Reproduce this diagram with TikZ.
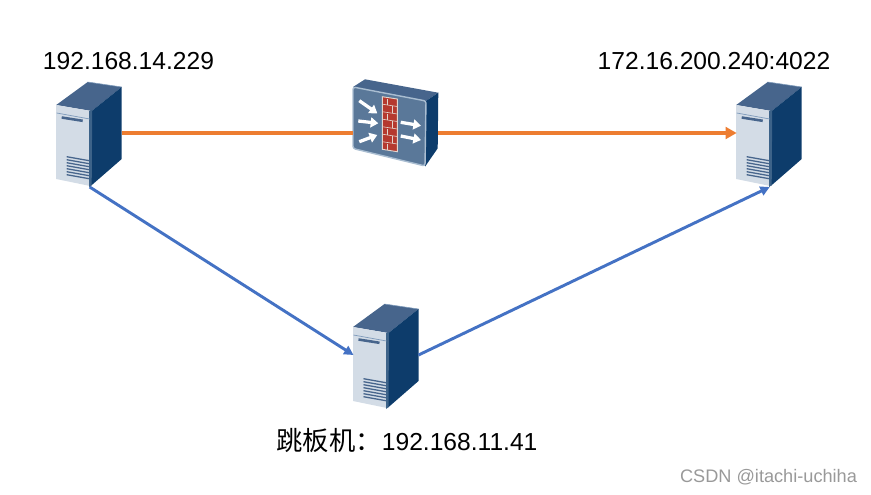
\documentclass[tikz,border=0pt]{standalone}
\usepackage{fontspec}
\setmainfont{Liberation Sans}
\newfontfamily\cjk[Scale=1.07]{Noto Sans CJK SC}
\usetikzlibrary{arrows.meta,positioning}
\definecolor{srvtop}{HTML}{47658C}
\definecolor{srvside}{HTML}{0D3C6B}
\definecolor{srvfront}{HTML}{D3DCE6}
\definecolor{srvedge}{HTML}{7F9BBB}
\definecolor{fwface}{HTML}{5A7899}
\definecolor{fwrim}{HTML}{A9BDD1}
\definecolor{brick}{HTML}{B5392F}
\definecolor{brickline}{HTML}{E3D6CE}
\definecolor{orangeline}{HTML}{ED7D31}
\definecolor{blueline}{HTML}{4472C4}
\tikzset{
  srv/.pic={
    \fill[srvtop] (-.5,0)--(31,-23)--(65,-18)--(35,6)--cycle;
    \draw[srvedge,line width=.5pt] (31,-23)--(65,-18);
    \fill[srvside] (35,6)--(65,-18)--(65,54)--(34,81)--cycle;
    \fill[srvfront] (-.5,0)--(34,6)--(33.5,81)--(-.5,74)--cycle;
    \fill[srvside!80] (32.5,6)--(35.5,5)--(35,80)--(32.5,82)--cycle;
    \draw[srvedge,line width=.6pt] (0,8)--(33,14);
    \draw[srvtop,line width=2.2pt] (5,12.5)--(26,15.8);
    \foreach \k in {0,...,6} \draw[srvtop,line width=1.1pt] (10,51.7+3*\k)--(32.5,55.7+3*\k);
    \coordinate (-l) at (0,28); \coordinate (-r) at (65,28); \coordinate (-b) at (33,82);
  },
  wall/.pic={
    \fill[srvtop] (0,0)--(12,-7.7)--(85.3,5.7)--(73,14)--cycle;
    \fill[srvside] (73,14)--(85.3,5.7)--(84.7,61.3)--(72,79.7)--cycle;
    \fill[fwface,draw=fwrim,line width=1.2pt,rounded corners=2pt] (0,0)--(73,14)--(72,79)--(0,61.5)--cycle;
    \fill[brick,draw=brickline,line width=.8pt] (29.3,9.7)--(44.3,12)--(44.3,64.7)--(29.3,62.3)--cycle;
    \foreach \k in {1,...,6} \draw[brickline,line width=.5pt] (29.3,9.7+7.5*\k)--(44.3,12+7.5*\k);
    \foreach \k/\m in {1/34,2/39,3/34,4/39,5/34,6/39,7/34} \draw[brickline,line width=.5pt] (\m,10.7+7.5*\k)--(\m,4+7.5*\k);
    \draw[fwarrow] (6.3,13.7)--(24.3,26.3);
    \draw[fwarrow] (5.3,34)--(25.3,36.3);
    \draw[fwarrow] (6.3,54.7)--(24.3,48);
    \draw[fwarrow] (47.7,35.3)--(68,38.7);
    \draw[fwarrow] (47.7,49)--(68,53);
    \coordinate (-l) at (0,46); \coordinate (-r) at (85,46);
  },
  fwarrow/.style={-{Triangle[length=6.5pt,width=8.5pt]},draw=white,line width=2.8pt},
  oa/.style={-{Triangle[length=9.5pt,width=10pt]},draw=orangeline,line width=2.8pt},
  ba/.style={-{Triangle[length=8pt,width=8pt]},draw=blueline,line width=2.5pt},
  ip/.style={font=\fontsize{21pt}{24pt}\selectfont,text=black,inner sep=0pt},
}
\begin{document}
\begin{tikzpicture}[x=.03cm,y=-.03cm]
\useasboundingbox (0,0) rectangle (871,494);
% hosts and firewall
\pic (src) at (56.7,105) {srv};
\pic (dst) at (736.7,105) {srv};
\pic (jump) at (353.5,327) {srv};
\pic (fw) at (353,87) {wall};
% routes
\draw[oa,-] (src-r)--(fw-l);
\draw[oa] (fw-r)--(dst-l);
\draw[ba] (src-b)--(jump-l);
\draw[ba] (jump-r)--(dst-b);
% labels
\node[ip] (srclabel) at (128.5,61) {192.168.14.229};
\node[ip] (dstlabel) at (714,61) {172.16.200.240:4022};
\node[ip] (jumplabel) at (407,440) {{\cjk 跳板机：}192.168.11.41};
\node[font=\fontsize{15.5pt}{18pt}\selectfont,text=black!40,inner sep=0pt] (mark) at (768.5,477) {CSDN @itachi-uchiha};
\end{tikzpicture}
\end{document}
